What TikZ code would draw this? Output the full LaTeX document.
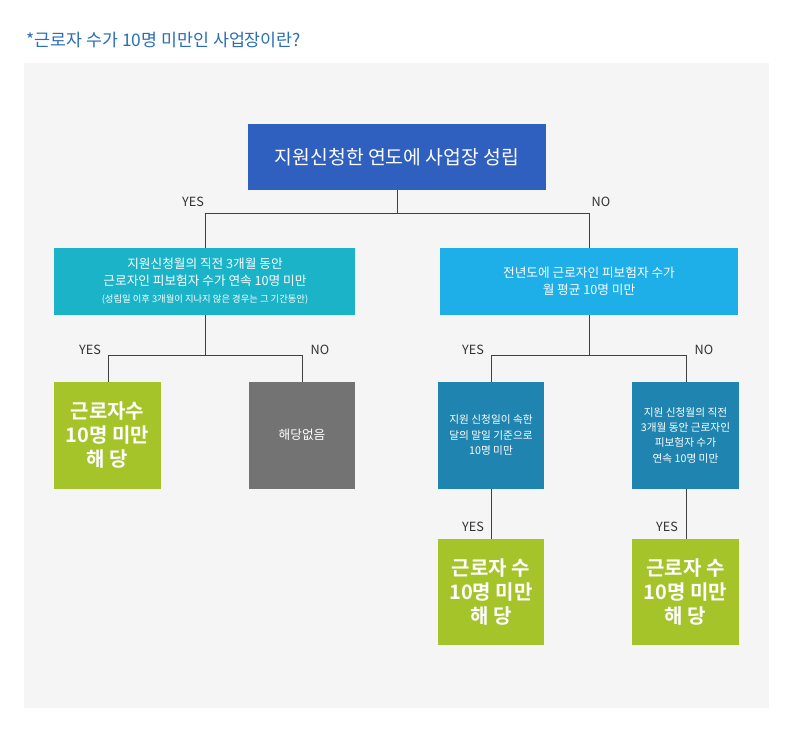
\documentclass[tikz,border=0pt]{standalone}
\usepackage{fontspec}
\setmainfont{Noto Sans CJK KR}
\newfontfamily\kb{Noto Sans CJK KR Bold}
\begin{document}
\begin{tikzpicture}[x=0.75pt,y=-0.75pt,
  bx/.style={draw=none,anchor=north west,inner sep=0,text=white,align=center},
  ln/.style={draw=black!75,line width=0.6pt},
  lb/.style={font=\fontsize{9.5}{11}\selectfont,text=black!80}]
\useasboundingbox (0,0) rectangle (794,732);
\fill[white] (0,0) rectangle (794,732);
\fill[black!4] (24,63) rectangle (769,708);
\node[anchor=west,text={rgb,255:red,42;green,110;blue,180},font=\fontsize{13}{14}\selectfont] (t) at (22,40) {*근로자 수가 10명 미만인 사업장이란?};
\fill[fill={rgb,255:red,47;green,95;blue,191}] (248,124) rectangle (546,190);
\node[text=white,font=\fontsize{14.5}{16}\selectfont] (top) at (397,157) {지원신청한 연도에 사업장 성립};
\fill[fill={rgb,255:red,26;green,179;blue,200}] (54,248) rectangle (355,315);
\node[text=white,align=center,font=\fontsize{9.5}{12.5}\selectfont] (l1) at (205,281) {지원신청월의 직전 3개월 동안\\근로자인 피보험자 수가 연속 10명 미만\\{\fontsize{7}{9}\selectfont(성립일 이후 3개월이 지나지 않은 경우는 그 기간동안)}};
\fill[fill={rgb,255:red,30;green,174;blue,232}] (440,248) rectangle (738,315);
\node[text=white,align=center,font=\fontsize{9.5}{13}\selectfont] (r1) at (589,281) {전년도에 근로자인 피보험자 수가\\월 평균 10명 미만};
\fill[fill={rgb,255:red,164;green,196;blue,42}] (54,382) rectangle (161,489);
\node[text=white,align=center,font=\kb\fontsize{15}{18}\selectfont] (g1) at (107.5,435) {근로자수\\10명 미만\\해 당};
\fill[fill={rgb,255:red,115;green,115;blue,115}] (249,382) rectangle (355,489);
\node[text=white,font=\fontsize{9.5}{11}\selectfont] (n1) at (302,435) {해당없음};
\fill[fill={rgb,255:red,31;green,132;blue,176}] (438,382) rectangle (544,489);
\node[text=white,align=center,font=\fontsize{8}{11.5}\selectfont] (c1) at (491,435) {지원 신청일이 속한\\달의 말일 기준으로\\10명 미만};
\fill[fill={rgb,255:red,31;green,132;blue,176}] (632,382) rectangle (739,489);
\node[text=white,align=center,font=\fontsize{8}{11.5}\selectfont] (c2) at (685.5,435) {지원 신청월의 직전\\3개월 동안 근로자인\\피보험자 수가\\연속 10명 미만};
\fill[fill={rgb,255:red,164;green,196;blue,42}] (438,539) rectangle (544,645);
\node[text=white,align=center,font=\kb\fontsize{15}{18}\selectfont] (g2) at (491,592) {근로자 수\\10명 미만\\해 당};
\fill[fill={rgb,255:red,164;green,196;blue,42}] (632,539) rectangle (739,645);
\node[text=white,align=center,font=\kb\fontsize{15}{18}\selectfont] (g3) at (685.5,592) {근로자 수\\10명 미만\\해 당};
% connectors
\draw[ln] (397,190) -- (397,213) (205,213) -- (589,213) (205,213) -- (205,248) (589,213) -- (589,248);
\draw[ln] (205,315) -- (205,355) (108,355) -- (302,355) (108,355) -- (108,382) (302,355) -- (302,382);
\draw[ln] (589,315) -- (589,355) (491,355) -- (686,355) (491,355) -- (491,382) (686,355) -- (686,382);
\draw[ln] (491,489) -- (491,539) (686,489) -- (686,539);
\node[lb] (y1) at (193,202) {YES};
\node[lb] (n0) at (601,202) {NO};
\node[lb] (y2) at (90,350) {YES};
\node[lb] (n2) at (320,350) {NO};
\node[lb] (y3) at (473,350) {YES};
\node[lb] (n3) at (704,350) {NO};
\node[lb] (y4) at (473,527) {YES};
\node[lb] (y5) at (667,527) {YES};
\end{tikzpicture}
\end{document}
